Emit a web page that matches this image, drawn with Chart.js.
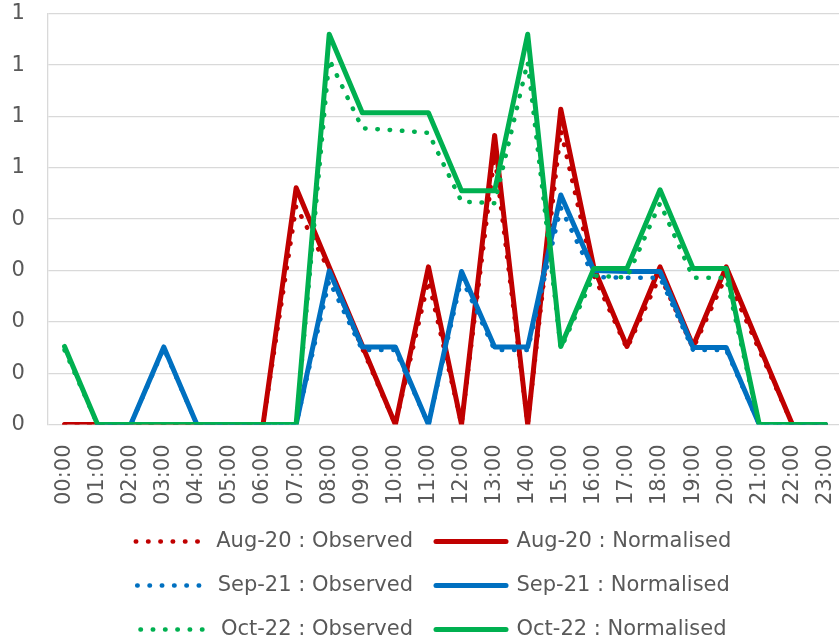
<!DOCTYPE html>
<html>
<head>
<meta charset="utf-8">
<script src="https://cdn.jsdelivr.net/npm/chart.js@4/dist/chart.umd.min.js"></script>
<style>
    html, body { margin: 0; padding: 0; background: #ffffff; overflow: hidden; }
    canvas { display: block; }
</style>
</head>
<body>
<canvas id="chart" width="842" height="650"></canvas>
<script>
// Данные
const hours = ['00:00', '01:00', '02:00', '03:00', '04:00', '05:00', '06:00', '07:00',
    '08:00', '09:00', '10:00', '11:00', '12:00', '13:00', '14:00', '15:00',
    '16:00', '17:00', '18:00', '19:00', '20:00', '21:00', '22:00', '23:00'];

const aug20Observed   = [0, 0, 0, 0, 0, 0, 0, 0.425, 0.30, 0.148, 0, 0.28, 0, 0.525, 0, 0.573, 0.29, 0.148, 0.29, 0.148, 0.29, 0.145, 0, 0];
const aug20Normalised = [0, 0, 0, 0, 0, 0, 0, 0.461, 0.307, 0.154, 0, 0.307, 0, 0.563, 0, 0.614, 0.305, 0.152, 0.307, 0.153, 0.307, 0.153, 0, 0];

const sep21Observed   = [null, 0, 0, 0.148, 0, 0, 0, 0, 0.28, 0.145, 0.145, 0, 0.285, 0.145, 0.145, 0.422, 0.287, 0.286, 0.286, 0.145, 0.145, 0, 0, 0];
const sep21Normalised = [null, 0, 0, 0.151, 0, 0, 0, 0, 0.299, 0.151, 0.151, 0, 0.298, 0.151, 0.151, 0.447, 0.30, 0.298, 0.298, 0.15, 0.15, 0, 0, 0];

const oct22Observed   = [0.145, 0, 0, 0, 0, 0, 0, 0, 0.711, 0.577, 0.573, 0.568, 0.434, 0.431, 0.706, 0.148, 0.29, 0.286, 0.431, 0.286, 0.286, 0, 0, 0];
const oct22Normalised = [0.152, 0, 0, 0, 0, 0, 0, 0, 0.76, 0.607, 0.607, 0.607, 0.455, 0.455, 0.76, 0.152, 0.304, 0.304, 0.457, 0.304, 0.304, 0, 0, 0];

const yTicksMin = 0;
const yTicksMax = 0.8;
const yTicksStep = 0.1;

const RED = '#C00000';
const BLUE = '#0070C0';
const GREEN = '#00B050';
const TEXT = '#595959';
const GRID = '#D9D9D9';
const FONT = "'DejaVu Sans', sans-serif";
const DOTS = [0.5, 11.8];

function observed(label, data, color, order) {
    return {
        label, data, order,
        borderColor: color,
        backgroundColor: color,
        borderWidth: 4.5,
        borderDash: DOTS,
        borderCapStyle: 'round',
        pointRadius: 0,
        tension: 0,
        fill: false
    };
}

function normalised(label, data, color, order) {
    return {
        label, data, order,
        borderColor: color,
        backgroundColor: color,
        borderWidth: 5,
        borderCapStyle: 'round',
        borderJoinStyle: 'round',
        pointRadius: 0,
        tension: 0,
        fill: false
    };
}

const ctx = document.getElementById('chart').getContext('2d');

new Chart(ctx, {
    type: 'line',
    data: {
        labels: hours,
        datasets: [
            observed('Aug-20 : Observed', aug20Observed, RED, 5),
            normalised('Aug-20 : Normalised', aug20Normalised, RED, 4),
            observed('Sep-21 : Observed', sep21Observed, BLUE, 3),
            normalised('Sep-21 : Normalised', sep21Normalised, BLUE, 2),
            observed('Oct-22 : Observed', oct22Observed, GREEN, 1),
            normalised('Oct-22 : Normalised', oct22Normalised, GREEN, 0)
        ]
    },
    options: {
        responsive: false,
        animation: false,
        devicePixelRatio: 1,
        layout: {
            padding: { top: 13.7, left: 25, right: 0, bottom: 0 }
        },
        plugins: {
            tooltip: { enabled: false },
            legend: {
                position: 'bottom',
                labels: {
                    color: TEXT,
                    font: { family: FONT, size: 21 },
                    padding: 23,
                    usePointStyle: true,
                    pointStyleWidth: 70,
                    // свои элементы легенды: линия с тем же пунктиром, что и у серии
                    generateLabels: (chart) => chart.data.datasets.map((ds, i) => ({
                        text: ds.label,
                        fillStyle: ds.borderColor,
                        strokeStyle: ds.borderColor,
                        fontColor: TEXT,
                        lineWidth: ds.borderWidth,
                        lineDash: ds.borderDash || [],
                        lineCap: 'round',
                        pointStyle: 'line',
                        hidden: false,
                        datasetIndex: i
                    }))
                }
            }
        },
        scales: {
            x: {
                offset: true,
                afterFit: (scale) => {
                    scale.height = 83.5;
                    // повёрнутые подписи не должны сужать область графика
                    scale.paddingLeft = 0;
                    scale.paddingRight = 0;
                },
                grid: { display: false, drawTicks: false },
                border: { display: false },
                ticks: {
                    color: TEXT,
                    font: { family: FONT, size: 21 },
                    minRotation: 90,
                    maxRotation: 90,
                    autoSkip: false,
                    padding: 20
                }
            },
            y: {
                min: yTicksMin,
                max: yTicksMax,
                afterFit: (scale) => { scale.width = 23; },
                grid: { color: GRID, lineWidth: 1.3, drawTicks: false },
                border: { display: true, color: GRID, width: 1.3 },
                ticks: {
                    stepSize: yTicksStep,
                    color: TEXT,
                    font: { family: FONT, size: 21 },
                    // подписи слева от оси, вне области подписи шкалы
                    mirror: true,
                    padding: -36.5,
                    callback: (value) => Math.round(value + 1e-9)
                }
            }
        }
    }
});
</script>
</body>
</html>
